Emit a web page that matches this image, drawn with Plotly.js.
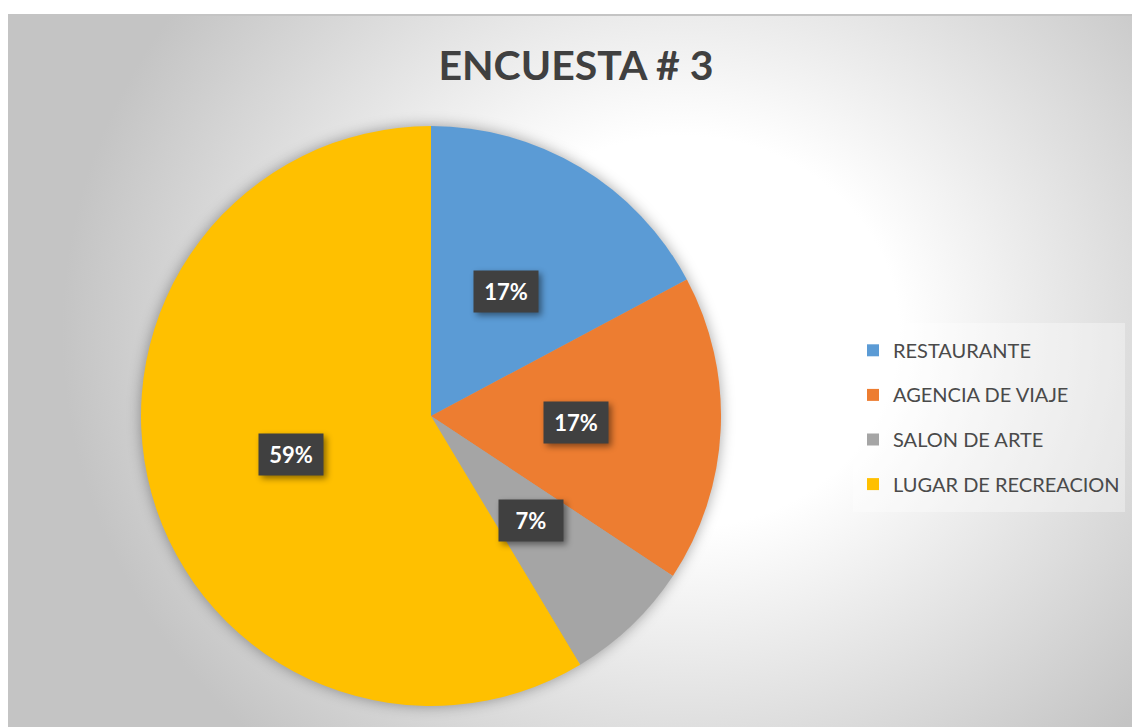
<!DOCTYPE html>
<html>
<head>
<meta charset="utf-8">
<script src="https://cdn.plot.ly/plotly-3.0.1.min.js"></script>
<style>
  html, body { margin: 0; padding: 0; background: #ffffff; width: 1132px; height: 727px; overflow: hidden; }
  #bg {
    position: absolute; left: 8px; top: 14px; width: 1140px; height: 730px;
    border-top: 2px solid #c4c4c4; border-left: 2px solid #c4c4c4; box-sizing: border-box;
    background: radial-gradient(ellipse 620px 560px at 672px 316px, #ffffff 0%, #ffffff 35%, #c4c4c4 100%);
  }
  #chart { position: absolute; left: 0; top: 0; width: 1132px; height: 727px; }
</style>
</head>
<body>
<div id="bg"></div>
<div id="chart"></div>
<script>
// ---- data ----
const categories = ['RESTAURANTE', 'AGENCIA DE VIAJE', 'SALON DE ARTE', 'LUGAR DE RECREACION'];
const shares = [17.2, 17.1, 7.1, 58.6];
const sliceColors = ['#5B9BD5', '#ED7D31', '#A5A5A5', '#FFC000'];
const chartTitle = 'ENCUESTA # 3';

// ---- geometry ----
const W = 1132, H = 727;
const cxPx = 431, cyPx = 416, R = 290;
const domX = [(cxPx - R) / W, (cxPx + R) / W];
const domY = [(H - cyPx - R) / H, (H - cyPx + R) / H];

const legendLabels = categories.map(c => '<span style="font-size:20px;baseline-shift:5px">' + c + '</span>');

const trace = {
  type: 'pie',
  labels: legendLabels,
  values: shares,
  sort: false,
  direction: 'clockwise',
  rotation: 0,
  textinfo: 'none',
  textposition: 'none',
  hoverinfo: 'percent',
  marker: { colors: sliceColors, line: { width: 0 } },
  domain: { x: domX, y: domY }
};

// label boxes at slice mid-angles
const total = shares.reduce((a, b) => a + b, 0);
let cum = 0;
const annotations = shares.map(v => {
  const mid = (cum + v / 2) / total * 2 * Math.PI;
  cum += v;
  const px = cxPx + 0.5 * R * Math.sin(mid);
  const py = (H - cyPx) + 0.5 * R * Math.cos(mid);
  return {
    xref: 'paper', yref: 'paper', x: px / W, y: py / H,
    xanchor: 'center', yanchor: 'middle', showarrow: false,
    text: Math.round(v / total * 100) + '%',
    font: { family: 'Lato, "Open Sans", sans-serif', size: 22, color: '#ffffff', weight: 'bold' },
    bgcolor: '#404040', width: 50, height: 27, borderpad: 7
  };
});

const layout = {
  width: W, height: H,
  margin: { l: 0, r: 0, t: 0, b: 0, pad: 0 },
  paper_bgcolor: 'rgba(0,0,0,0)',
  plot_bgcolor: 'rgba(0,0,0,0)',
  title: {
    text: chartTitle,
    font: { family: 'Lato, "Open Sans", sans-serif', size: 41, color: '#404040', weight: 'bold' },
    x: 576 / W, xanchor: 'center', xref: 'container',
    y: 1 - 66 / H, yanchor: 'middle', yref: 'container'
  },
  showlegend: true,
  legend: {
    x: 853 / W, xanchor: 'left', y: 1 - 323 / H, yanchor: 'top',
    bgcolor: 'rgba(255,255,255,0.35)', borderwidth: 0,
    font: { family: 'Lato, "Open Sans", sans-serif', size: 32, color: '#4a4a4a' },
    traceorder: 'normal'
  },
  annotations: annotations
};

Plotly.newPlot('chart', [trace], layout, { displayModeBar: false, staticPlot: true }).then(() => {
  const pl = document.querySelector('.pielayer');
  if (pl) pl.style.filter = 'drop-shadow(0px 0px 7px rgba(0,0,0,0.35))';
  document.querySelectorAll('.annotation .bg').forEach(b => {
    b.style.filter = 'drop-shadow(3px 3px 3px rgba(0,0,0,0.45))';
  });
});
</script>
</body>
</html>
